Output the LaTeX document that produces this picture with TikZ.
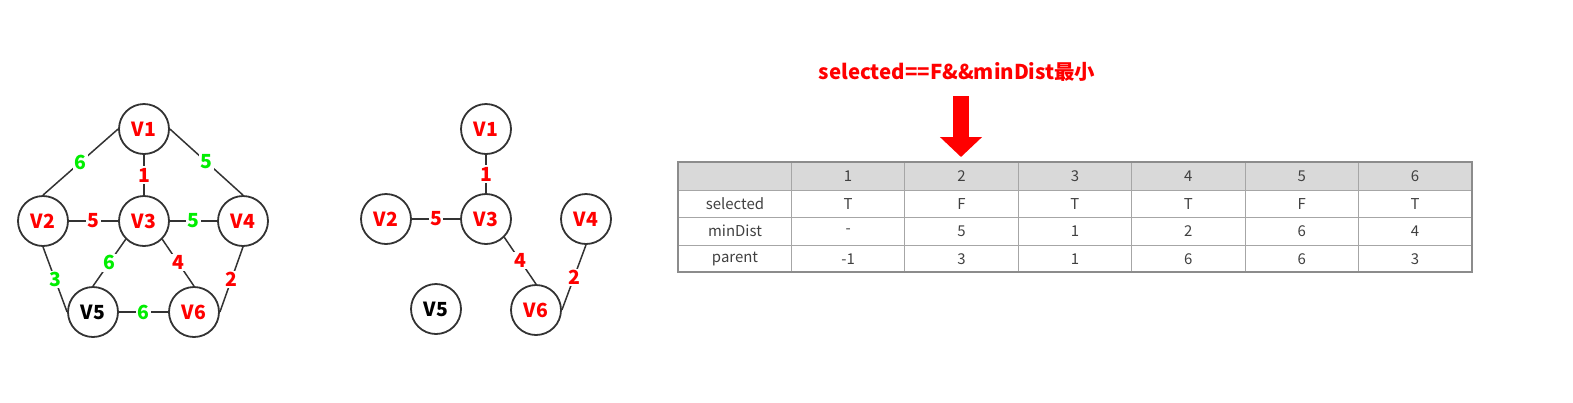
\documentclass[tikz,border=0pt]{standalone}
\usepackage{fontspec}
\setmainfont{Noto Sans CJK SC}
\usetikzlibrary{arrows.meta}
\definecolor{linegray}{HTML}{333333}
\definecolor{wgreen}{HTML}{00EE00}
\definecolor{headgray}{HTML}{D9D9D9}
\definecolor{gridgray}{HTML}{A6A6A6}
\definecolor{framegray}{HTML}{8C8C8C}
\definecolor{celltext}{HTML}{404040}
\tikzstyle{vertex} = [circle, minimum size=50bp, inner sep=0pt, draw=linegray, line width=1.8bp, text=red, font=\fontsize{19.5}{21}\selectfont\bfseries]
\tikzstyle{edge} = [draw=linegray, line width=1.5bp]
\tikzstyle{wred} = [fill=white, inner sep=1.5pt, text=red, font=\fontsize{19.5}{21}\selectfont\bfseries]
\tikzstyle{wgrn} = [fill=white, inner sep=1.5pt, text=wgreen, font=\fontsize{19.5}{21}\selectfont\bfseries]
\tikzstyle{cell} = [inner sep=0pt, text=celltext, font=\fontsize{15}{17}\selectfont]
\tikzstyle{pointer} = [red, line width=16bp, -{Triangle[width=41bp, length=20bp]}]

\begin{document}
\begin{tikzpicture}[x=1bp, y=-1bp]

	\useasboundingbox (0,0) rectangle (1573,402);

	% full graph
	\node (a1) [vertex] at (144,129) {V1};
	\node (a2) [vertex] at (43,221) {V2};
	\node (a3) [vertex] at (144,221) {V3};
	\node (a4) [vertex] at (243,221) {V4};
	\node (a5) [vertex, text=black] at (93,312) {V5};
	\node (a6) [vertex] at (194,312) {V6};

	\draw [edge] (a1.west) -- node[wgrn] {6} (a2.north);
	\draw [edge] (a1.south) -- node[wred] {1} (a3.north);
	\draw [edge] (a1.east) -- node[wgrn] {5} (a4.north);
	\draw [edge] (a2.east) -- node[wred] {5} (a3.west);
	\draw [edge] (a3.east) -- node[wgrn] {5} (a4.west);
	\draw [edge] (a2.south) -- node[wgrn] {3} (a5.west);
	\draw [edge] (a3.south west) -- node[wgrn] {6} (a5.north);
	\draw [edge] (a3.south east) -- node[wred] {4} (a6.north);
	\draw [edge] (a4.south) -- node[wred] {2} (a6.east);
	\draw [edge] (a5.east) -- node[wgrn] {6} (a6.west);

	% tree so far
	\node (b1) [vertex] at (486,129) {V1};
	\node (b2) [vertex] at (386,219) {V2};
	\node (b3) [vertex] at (486,219) {V3};
	\node (b4) [vertex] at (586,219) {V4};
	\node (b5) [vertex, text=black] at (436,309) {V5};
	\node (b6) [vertex] at (536,310) {V6};

	\draw [edge] (b1.south) -- node[wred] {1} (b3.north);
	\draw [edge] (b2.east) -- node[wred] {5} (b3.west);
	\draw [edge] (b3.south east) -- node[wred] {4} (b6.north);
	\draw [edge] (b4.south) -- node[wred] {2} (b6.east);

	% table
	\fill [headgray] (678,162) rectangle (1472,190);
	\foreach \i in {1,...,6}
		\draw [gridgray, line width=1bp] ({678+113.4*\i},162) -- ({678+113.4*\i},272);
	\foreach \y in {190,217,245}
		\draw [gridgray, line width=1bp] (678,\y) -- (1472,\y);
	\draw [framegray, line width=2bp] (678,162) rectangle (1472,272);

	\node (selected) [cell] at (735,204) {selected};
	\node (minDist) [cell] at (735,231) {minDist};
	\node (parent) [cell] at (735,259) {parent};
	\foreach \t [count=\i] in {1,2,3,4,5,6}
		\node (head\i) [cell] at ({678+113.4*(\i+0.5)},176) {\t};
	\foreach \t [count=\i] in {T,F,T,T,F,T}
		\node (sel\i) [cell] at ({678+113.4*(\i+0.5)},204) {\t};
	\foreach \t [count=\i] in {-,5,1,2,6,4}
		\node (dist\i) [cell] at ({678+113.4*(\i+0.5)},231) {\t};
	\foreach \t [count=\i] in {-1,3,1,6,6,3}
		\node (par\i) [cell] at ({678+113.4*(\i+0.5)},259) {\t};

	% pick the next vertex
	\node (title) [text=red, font=\fontsize{20.5}{22}\selectfont\bfseries] at (957,72) {selected={}={}F\&\&minDist最小};
	\coordinate (picktop) at (961,96);
	\coordinate (picktip) at (961,157);
	\draw [pointer] (picktop) -- (picktip);

\end{tikzpicture}
\end{document}
